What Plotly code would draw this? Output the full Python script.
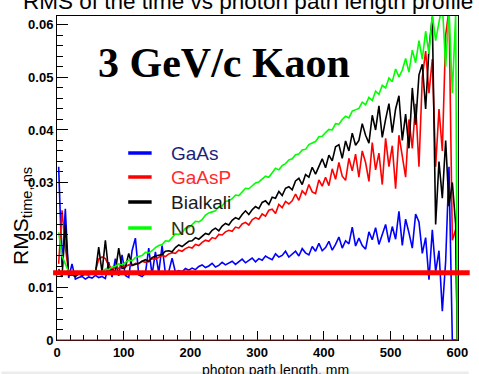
import numpy as np
import plotly.graph_objects as go

# 5 mm bins from 0 to 600 mm, values at the bin centres
bin_centers_mm = np.arange(2.5, 600, 5.0)
x_end_mm = 600.0

# RMS of the time per bin, in ps (converted to ns below)
rms_gaas_ps = [
    33.0, 14.0, 25.0, 11.8, 14.5, 11.6, 11.9, 12.1, 11.6, 12.0,
    11.8, 12.3, 11.9, 12.1, 11.7, 14.8, 12.0, 15.5, 12.2, 16.2,
    12.3, 11.9, 17.0, 19.4, 12.4, 12.1, 12.7, 17.5, 12.4, 16.8,
    12.8, 18.0, 12.6, 13.0, 15.6, 12.9, 13.2, 13.0, 13.6, 13.3,
    13.7, 13.4, 14.0, 14.3, 13.8, 14.1, 14.6, 13.9, 14.2, 14.8,
    14.3, 14.6, 15.0, 14.4, 14.9, 15.4, 14.7, 15.1, 15.6, 14.9,
    15.5, 15.2, 16.0, 15.6, 15.3, 16.4, 15.8, 16.1, 16.9, 15.8,
    16.4, 16.9, 16.0, 17.4, 16.6, 16.2, 17.8, 16.9, 18.4, 17.0,
    17.6, 18.8, 17.1, 18.2, 19.6, 17.5, 18.9, 18.3, 21.5, 17.9,
    19.4, 18.0, 17.3, 20.6, 19.1, 21.4, 18.2, 19.9, 22.0, 18.6,
    21.6, 19.2, 24.5, 18.0, 23.0, 20.4, 17.5, 24.0, 22.5, 16.5,
    19.5, 11.5, 21.0, 13.0, 17.0, 5.5, 15.0, 33.0, 0.0, 0.0,
]
rms_gaasp_ps = [
    14.5, 24.7, 17.7, 12.8, 12.7, 12.9, 12.6, 12.8, 12.7, 12.9,
    12.8, 13.0, 15.4, 15.8, 15.5, 14.2, 13.5, 13.9, 13.6, 14.1,
    14.0, 14.3, 14.2, 14.6, 14.5, 15.0, 14.8, 15.1, 15.5, 15.4,
    15.7, 16.1, 15.9, 16.4, 16.6, 16.5, 17.1, 16.9, 17.4, 17.7,
    17.5, 18.2, 18.0, 18.6, 19.0, 18.8, 19.5, 19.3, 20.1, 20.0,
    20.6, 20.9, 20.7, 21.5, 21.3, 22.1, 22.4, 21.9, 22.9, 23.3,
    23.0, 24.0, 23.6, 24.7, 24.9, 24.1, 25.8, 25.2, 26.4, 25.9,
    26.5, 27.8, 26.6, 28.4, 27.7, 29.6, 28.2, 27.9, 30.5, 29.3,
    31.0, 29.4, 32.6, 30.6, 33.8, 31.2, 30.4, 34.6, 32.2, 35.4,
    31.0, 36.0, 33.8, 30.2, 37.6, 32.4, 35.6, 29.6, 38.4, 33.0,
    37.0, 28.8, 39.0, 34.5, 31.0, 42.0, 36.5, 45.0, 33.0, 50.0,
    55.0, 47.0, 53.5, 33.0, 44.0, 36.0, 58.0, 63.0, 19.0, 21.0,
]
rms_bialkali_ps = [
    13.5, 12.0, 22.0, 12.3, 12.4, 12.1, 12.6, 12.3, 12.5, 12.4,
    12.6, 12.7, 17.7, 12.9, 19.0, 13.0, 13.4, 13.1, 17.5, 13.6,
    13.8, 16.5, 14.2, 14.4, 14.6, 15.0, 15.3, 14.9, 15.7, 16.0,
    16.2, 16.3, 16.9, 17.0, 16.8, 17.6, 18.1, 17.8, 18.3, 18.8,
    18.9, 19.5, 19.2, 19.8, 20.3, 20.1, 20.9, 21.3, 20.8, 21.7,
    22.2, 21.9, 22.8, 23.3, 23.0, 23.9, 24.6, 23.9, 24.8, 25.4,
    25.0, 26.2, 26.5, 25.8, 27.2, 27.0, 28.3, 27.5, 28.9, 29.2,
    28.6, 30.3, 30.8, 29.6, 31.5, 31.0, 32.9, 31.6, 33.1, 34.5,
    32.8, 35.2, 34.1, 36.8, 37.2, 34.6, 37.9, 36.0, 39.4, 37.1,
    38.0, 41.2, 39.0, 37.5, 42.8, 40.0, 44.6, 38.6, 42.0, 45.0,
    39.5, 44.0, 46.5, 38.0, 43.0, 36.5, 48.0, 41.0, 50.5, 52.5,
    44.0, 55.5, 61.5, 22.0, 34.0, 27.0, 38.0, 25.5, 30.0, 22.0,
]
rms_no_ps = [
    20.5, 16.0, 14.5, 13.0, 12.6, 12.9, 12.5, 12.8, 12.7, 13.0,
    12.9, 13.2, 13.1, 13.0, 13.5, 13.4, 13.9, 14.0, 14.5, 14.3,
    14.8, 15.2, 15.1, 15.7, 15.9, 16.1, 16.7, 16.6, 17.0, 17.6,
    18.0, 18.2, 18.9, 18.8, 19.5, 20.2, 20.1, 20.5, 21.3, 21.4,
    22.0, 22.6, 22.5, 22.9, 23.8, 24.2, 24.4, 24.6, 25.4, 25.5,
    26.4, 26.5, 26.9, 27.6, 27.5, 28.2, 28.9, 28.8, 29.3, 29.9,
    30.1, 30.6, 31.2, 31.0, 31.9, 32.7, 32.4, 33.2, 33.6, 34.3,
    34.5, 35.3, 35.4, 36.2, 36.3, 37.2, 37.5, 37.8, 38.7, 38.8,
    39.5, 40.1, 40.0, 41.2, 41.1, 42.0, 42.6, 42.3, 43.6, 43.8,
    44.1, 45.3, 44.8, 46.2, 45.6, 47.4, 46.8, 48.5, 48.0, 49.9,
    49.2, 51.6, 50.1, 51.4, 53.6, 51.0, 55.2, 52.8, 57.0, 53.5,
    58.8, 54.5, 62.0, 57.0, 61.0, 64.0, 52.0, 63.0, 47.0, 62.0,
]

series_names = ["GaAs", "GaAsP", "Bialkali", "No"]
series_values = [rms_gaas_ps, rms_gaasp_ps, rms_bialkali_ps, rms_no_ps]
line_colors = ["#0000ff", "#ff0000", "#000000", "#00ff00"]
legend_text_colors = ["#1e1e7a", "#ff2a2a", "#1a1a1a", "#2e2e10"]

reference_rms_ns = 0.0128   # horizontal reference level
x_range = [0, 601]
y_range = [0, 0.0617]

fig = go.Figure()

for name, vals, col in zip(series_names, series_values, line_colors):
    y_ns = np.array(vals) / 1000.0
    # outline of the profile, closing down to zero at the upper edge
    fig.add_trace(go.Scatter(
        x=np.append(bin_centers_mm, x_end_mm),
        y=np.append(y_ns, 0.0),
        mode="lines",
        line=dict(color=col, width=1.6),
        name=name,
        showlegend=False,
    ))

# plot area in pixels: x 57..468, y 16..340
PX_L, PX_R, PX_T, PX_B = 57, 468, 16, 340
W = PX_R - PX_L
H = PX_B - PX_T


def px_x(p):
    return (p - PX_L) / W


def px_y(p):
    return (PX_B - p) / H


shapes = []
# thick red reference line crossing the whole frame
shapes.append(dict(type="line", xref="paper", yref="y",
                   x0=px_x(53), x1=px_x(480),
                   y0=reference_rms_ns, y1=reference_rms_ns,
                   line=dict(color="#ff0000", width=5), layer="above"))
# reddish bottom edge of the frame
shapes.append(dict(type="line", xref="paper", yref="paper",
                   x0=0, x1=1, y0=0, y1=0,
                   line=dict(color="#8a2020", width=1.2), layer="above"))

# hand-drawn legend
legend_rows_px = [153, 177, 202, 228]
annotations = []
for name, col, tcol, row in zip(series_names, line_colors, legend_text_colors, legend_rows_px):
    shapes.append(dict(type="line", xref="paper", yref="paper",
                       x0=px_x(130), x1=px_x(154), y0=px_y(row), y1=px_y(row),
                       line=dict(color=col, width=3.5), layer="above"))
    annotations.append(dict(xref="paper", yref="paper", x=px_x(172), y=px_y(row),
                            xanchor="left", yanchor="middle", showarrow=False,
                            text=name,
                            font=dict(family="Liberation Sans, Arial", size=19, color=tcol)))

# light strip along the bottom edge of the page
shapes.append(dict(type="rect", xref="paper", yref="paper",
                   x0=px_x(0), x1=px_x(479), y0=px_y(374), y1=px_y(371.5),
                   fillcolor="#ececec", line=dict(width=0), layer="above"))

annotations += [
    dict(xref="paper", yref="paper", x=px_x(228), y=px_y(63),
         xanchor="center", yanchor="middle", showarrow=False,
         text="<b>3 GeV/c Kaon</b>",
         font=dict(family="Liberation Serif, Times New Roman", size=42, color="black")),
    dict(xref="paper", yref="paper", x=px_x(20), y=px_y(1),
         xanchor="left", yanchor="middle", showarrow=False,
         text="RMS of the time vs photon path length profile",
         font=dict(family="Liberation Sans, Arial", size=22.5, color="black")),
    dict(xref="paper", yref="paper", x=px_x(281), y=px_y(370),
         xanchor="center", yanchor="middle", showarrow=False,
         text="photon path length, mm",
         font=dict(family="Liberation Sans, Arial", size=14, color="black")),
    dict(xref="paper", yref="paper", x=px_x(21), y=px_y(216),
         xanchor="center", yanchor="middle", showarrow=False, textangle=-90,
         text="RMS<sub>time, ns</sub>",
         font=dict(family="Liberation Sans, Arial", size=21, color="black")),
]

tick_font = dict(family="Liberation Sans, Arial", size=13, color="black", weight="bold")

fig.update_layout(
    width=479, height=374,
    margin=dict(l=PX_L, r=479 - PX_R, t=PX_T, b=374 - PX_B),
    paper_bgcolor="white", plot_bgcolor="white",
    showlegend=False,
    shapes=shapes,
    annotations=annotations,
    xaxis=dict(
        range=x_range, showgrid=False, zeroline=False,
        showline=True, linecolor="black", linewidth=1, mirror=True,
        ticks="inside", ticklen=9, tickcolor="black", tickwidth=1,
        tick0=0, dtick=100, tickfont=tick_font,
        minor=dict(ticks="inside", ticklen=5, dtick=20, tick0=0, tickcolor="black", showgrid=False),
    ),
    yaxis=dict(
        range=y_range, showgrid=False, zeroline=False,
        showline=True, linecolor="black", linewidth=1, mirror=True,
        ticks="inside", ticklen=11, tickcolor="black", tickwidth=1,
        tick0=0, dtick=0.01, tickfont=tick_font,
        minor=dict(ticks="inside", ticklen=6, dtick=0.002, tick0=0, tickcolor="black", showgrid=False),
    ),
)

fig.write_html("out.html")
